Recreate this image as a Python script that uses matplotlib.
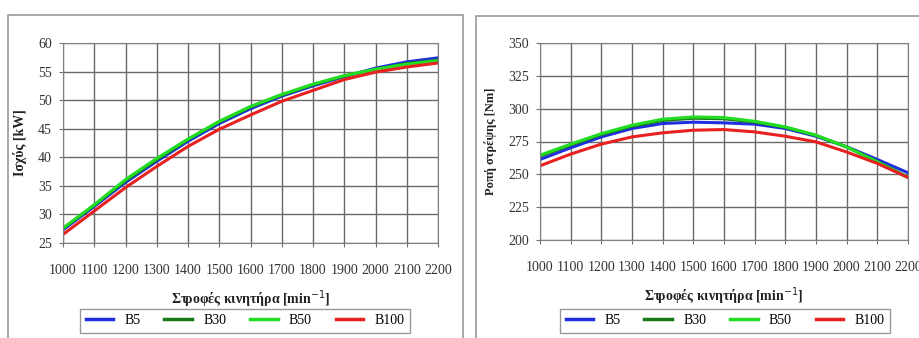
import matplotlib.pyplot as plt
from matplotlib.patches import Rectangle
from matplotlib.lines import Line2D

rpm = [1000, 1100, 1200, 1300, 1400, 1500, 1600, 1700, 1800, 1900, 2000, 2100, 2200]

# power [kW]
p_b5 = [27.3, 31.4, 35.6, 39.3, 42.8, 45.9, 48.5, 50.7, 52.5, 54.1, 55.6, 56.7, 57.4]
p_b30 = [27.5, 31.6, 35.9, 39.6, 43.1, 46.2, 48.8, 50.9, 52.7, 54.2, 55.4, 56.4, 57.0]
p_b50 = [27.6, 31.7, 36.1, 39.8, 43.2, 46.3, 48.9, 51.0, 52.8, 54.3, 55.4, 56.3, 56.9]
p_b100 = [26.5, 30.6, 34.7, 38.4, 41.9, 44.9, 47.4, 49.8, 51.7, 53.6, 54.9, 55.8, 56.5]

# torque [Nm]
t_b5 = [261.3, 270.2, 278.5, 284.9, 288.7, 289.7, 289.2, 288.2, 284.9, 279.0, 271.0, 261.3, 251.2]
t_b30 = [263.8, 272.4, 280.3, 286.6, 291.0, 292.7, 292.3, 289.8, 285.8, 279.6, 270.8, 259.8, 247.8]
t_b50 = [264.6, 273.0, 281.0, 287.4, 292.0, 293.7, 293.2, 290.4, 286.1, 279.8, 270.8, 259.5, 247.6]
t_b100 = [256.5, 265.4, 273.0, 278.5, 281.6, 283.6, 284.1, 282.3, 279.0, 274.7, 267.0, 258.3, 247.6]

labels = ["B5", "B30", "B50", "B100"]
colors = ["#1f2fe0", "#1a7a1a", "#22dd22", "#e82020"]

plt.rcParams["font.family"] = ["Liberation Serif", "DejaVu Serif"]

fig = plt.figure(figsize=(9.2, 3.38), dpi=100)

# outer chart frames
fig.patches.append(Rectangle((8 / 920, -0.05), 455 / 920, 1.05 - 15 / 338,
                             transform=fig.transFigure, fill=False,
                             edgecolor="#9a9a9a", linewidth=1.2))
fig.patches.append(Rectangle((476 / 920, -0.05), 460 / 920, 1.05 - 16 / 338,
                             transform=fig.transFigure, fill=False,
                             edgecolor="#9a9a9a", linewidth=1.2))

ax1 = fig.add_axes([63 / 920, 1 - 243 / 338, 375 / 920, 200 / 338])
ax2 = fig.add_axes([540 / 920, 1 - 240 / 338, 368 / 920, 197 / 338])

for ax, series in [(ax1, [p_b5, p_b30, p_b50, p_b100]),
                   (ax2, [t_b5, t_b30, t_b50, t_b100])]:
    for vals, c, lab in zip(series, colors, labels):
        ax.plot(rpm, vals, color=c, linewidth=2.2, label=lab)
    ax.set_xlim(1000, 2200)
    ax.set_xticks(rpm)
    ax.grid(True, color="#6a6a6a", linewidth=1.0)
    ax.set_axisbelow(True)
    for s in ax.spines.values():
        s.set_color("#808080")
    ax.tick_params(colors="#333333", labelsize=10, length=3, color="#707070")
    ax.tick_params(axis="x", pad=12)
    ax.tick_params(axis="y", pad=5)
    ax.set_xlabel("Στροφές κινητήρα [min$^{-1}$]", fontsize=10, fontweight="bold",
                  color="#222222", labelpad=8)

ax1.set_ylim(25, 60)
ax1.set_yticks(range(25, 61, 5))
ax1.set_ylabel("Ισχύς [kW]", fontsize=10, fontweight="bold", color="#222222", labelpad=8)

ax2.set_ylim(200, 350)
ax2.set_yticks(range(200, 351, 25))
ax2.set_ylabel("Ροπή στρέψης [Nm]", fontsize=9, fontweight="bold", color="#222222", labelpad=8)

handles = [Line2D([0], [0], color=c, linewidth=2.5) for c in colors]
for x0, w in [(80 / 920, 330 / 920), (560 / 920, 330 / 920)]:
    fig.legend(handles, labels, loc="upper left", bbox_to_anchor=(x0, 1 - 312 / 338, w, 0.01),
               mode="expand", ncol=4, frameon=True, fancybox=False, edgecolor="#808080",
               fontsize=10, handlelength=2.0, borderaxespad=0, borderpad=0.4)

fig.savefig("out.png", dpi=100)
